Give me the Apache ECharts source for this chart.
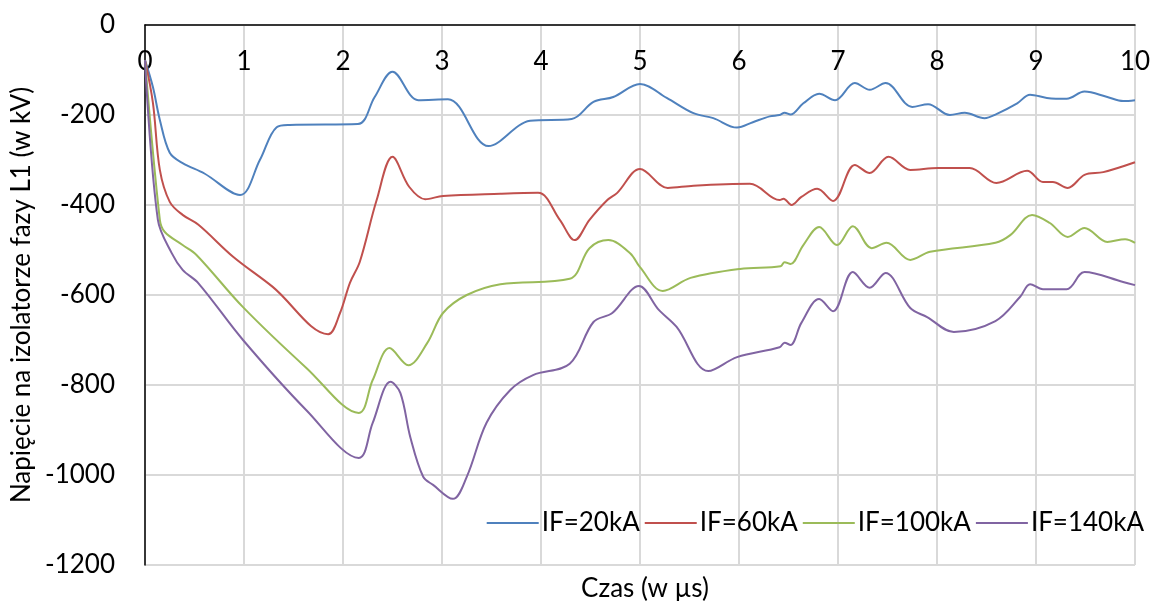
<!DOCTYPE html>
<html>
<head>
<meta charset="utf-8">
<script src="https://cdn.jsdelivr.net/npm/echarts@6/dist/echarts.min.js"></script>
<style>
  html, body { margin: 0; padding: 0; background: #fff; }
  #chart { width: 1155px; height: 601px; }
</style>
</head>
<body>
<div id="chart"></div>
<script>
// czas w µs, napięcie w kV
const if20 = [
  [0, -78], [0.08, -138], [0.15, -211], [0.25, -284], [0.38, -307], [0.6, -330], [0.96, -378],
  [1.16, -300], [1.33, -227], [1.46, -222], [2.15, -220], [2.32, -160], [2.5, -104],
  [2.76, -167], [3.06, -165], [3.47, -269], [3.89, -213], [4.31, -209], [4.53, -171],
  [4.73, -160], [5.0, -131], [5.27, -162], [5.54, -196], [5.74, -207], [5.98, -228],
  [6.14, -216], [6.31, -203], [6.41, -200], [6.46, -195], [6.52, -199], [6.65, -174],
  [6.81, -153], [6.97, -167], [7.17, -129], [7.32, -144], [7.48, -129], [7.75, -182],
  [7.91, -176], [8.13, -200], [8.28, -195], [8.48, -207], [8.6, -198], [8.81, -174],
  [8.94, -155], [9.11, -162], [9.31, -164], [9.49, -148], [9.72, -160], [9.88, -169], [10, -167]
]
const if60 = [
  [0, -78], [0.08, -173], [0.15, -322], [0.25, -393], [0.38, -422], [0.54, -444], [0.89, -515],
  [1.29, -582], [1.85, -687], [1.97, -640], [2.07, -573], [2.17, -526], [2.34, -389],
  [2.5, -293], [2.67, -360], [2.83, -387], [3.01, -380], [3.59, -375], [3.97, -373],
  [4.19, -433], [4.34, -478], [4.49, -433], [4.67, -389], [4.77, -373], [5.0, -320],
  [5.28, -362], [5.54, -357], [6.11, -353], [6.41, -389], [6.45, -386], [6.53, -400],
  [6.63, -382], [6.79, -364], [6.95, -391], [7.17, -311], [7.32, -329], [7.51, -293],
  [7.73, -322], [8.01, -318], [8.33, -318], [8.6, -351], [8.91, -324], [9.07, -349],
  [9.17, -349], [9.32, -362], [9.49, -333], [9.68, -327], [10, -305]
]
const if100 = [
  [0, -78], [0.15, -433], [0.2, -460], [0.38, -489], [0.52, -511], [0.99, -627], [1.63, -762],
  [2.16, -862], [2.3, -789], [2.47, -718], [2.66, -756], [2.85, -707], [3.01, -640],
  [3.25, -600], [3.59, -576], [4.29, -564], [4.49, -496], [4.68, -478], [4.9, -507],
  [5.0, -538], [5.23, -591], [5.51, -562], [6.01, -542], [6.42, -536], [6.46, -527],
  [6.52, -531], [6.65, -489], [6.81, -449], [6.99, -489], [7.15, -447], [7.34, -496],
  [7.49, -484], [7.73, -522], [7.93, -504], [8.59, -484], [8.74, -467], [8.96, -422],
  [9.14, -440], [9.32, -471], [9.49, -451], [9.72, -482], [9.9, -476], [10, -484]
]
const if140 = [
  [0, -78], [0.13, -433], [0.27, -507], [0.38, -544], [0.54, -574], [0.99, -700], [1.63, -856],
  [2.16, -962], [2.3, -884], [2.48, -793], [2.58, -818], [2.68, -916], [2.81, -1004],
  [2.91, -1022], [3.11, -1053], [3.25, -1004], [3.45, -884], [3.69, -811], [3.92, -778],
  [4.29, -753], [4.53, -660], [4.72, -640], [4.99, -580], [5.19, -633], [5.37, -671],
  [5.69, -769], [5.98, -738], [6.41, -716], [6.46, -706], [6.52, -711], [6.63, -662],
  [6.81, -609], [6.95, -636], [7.15, -549], [7.32, -584], [7.48, -551], [7.73, -629],
  [7.9, -649], [8.17, -682], [8.59, -658], [8.84, -604], [8.94, -576], [9.07, -587],
  [9.31, -587], [9.49, -549], [9.88, -571], [10, -578]
]
const seriesNames = ['IF=20kA', 'IF=60kA', 'IF=100kA', 'IF=140kA']
const seriesColors = ['#4f81bd', '#c0504d', '#9bbb59', '#8064a2']

const font = 'Lato, "Open Sans", sans-serif'
const chart = echarts.init(document.getElementById('chart'))

const lineSeries = [if20, if60, if100, if140].map((data, i) => {
  return {
    name: seriesNames[i],
    type: 'line',
    data: data,
    smooth: 0.35,
    symbol: 'none',
    lineStyle: { color: seriesColors[i], width: 2 },
    itemStyle: { color: seriesColors[i] }
  }
})

chart.setOption({
  animation: false,
  textStyle: { fontFamily: font },
  title: {
    text: 'Czas (w µs)',
    left: 640,
    textAlign: 'center',
    top: 571,
    textStyle: { fontFamily: font, fontSize: 26, fontWeight: 'normal', color: '#000' }
  },
  legend: {
    data: seriesNames,
    right: 6,
    top: 505,
    itemWidth: 52,
    itemHeight: 2,
    itemGap: 5,
    icon: 'rect',
    textStyle: { fontFamily: font, fontSize: 26, color: '#000', padding: [0, 0, 0, -2] }
  },
  grid: { left: 145, right: 20, top: 25, bottom: 36 },
  xAxis: {
    type: 'value',
    position: 'top',
    min: 0,
    max: 10,
    interval: 1,
    axisLine: { show: true, onZero: false, lineStyle: { color: '#000', width: 1.5 } },
    axisTick: { show: false },
    axisLabel: { inside: true, margin: 24, fontSize: 26, color: '#000', fontFamily: font },
    splitLine: { show: true, lineStyle: { color: '#d9d9d9', width: 2 } }
  },
  yAxis: {
    type: 'value',
    min: -1200,
    max: 0,
    interval: 200,
    name: 'Napięcie na izolatorze fazy L1 (w kV)',
    nameLocation: 'middle',
    nameGap: 108,
    nameTextStyle: { fontFamily: font, fontSize: 26, color: '#000' },
    axisLine: { show: true, lineStyle: { color: '#000', width: 1.5 } },
    axisTick: { show: false },
    axisLabel: { margin: 30, fontSize: 26, color: '#000', fontFamily: font, formatter: (v) => String(v) },
    splitLine: { show: true, lineStyle: { color: '#d9d9d9', width: 2 } }
  },
  series: lineSeries
})
</script>
</body>
</html>
